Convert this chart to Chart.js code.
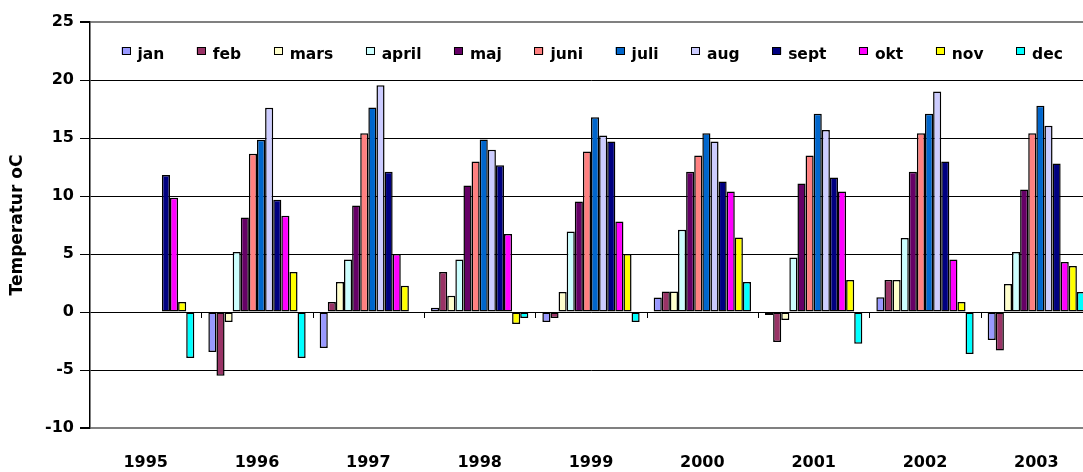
<!DOCTYPE html>
<html>
<head>
<meta charset="utf-8">
<script src="https://cdn.jsdelivr.net/npm/chart.js@4"></script>
<style>
html,body{margin:0;padding:0;overflow:hidden;background:#fff}
#wrap{position:relative;width:1100px;height:472px}
</style>
</head>
<body>
<div id="wrap"><canvas id="c"></canvas></div>
<script>
const years = ['1995','1996','1997','1998','1999','2000','2001','2002','2003'];
const months = ['jan','feb','mars','april','maj','juni','juli','aug','sept','okt','nov','dec'];
const monthColors = ['#9999FF','#993366','#FFFFCC','#CCFFFF','#660066','#FF8080','#0066CC','#CCCCFF','#000080','#FF00FF','#FFFF00','#00FFFF'];
const yTicks = [-10,-5,0,5,10,15,20,25];

const jan   = [null, -3.45, -3.1, 0.37, -0.86, 1.24, -0.26, 1.27, -2.42];
const feb   = [null, -5.5, 0.86, 3.45, -0.52, 1.76, -2.59, 2.76, -3.31];
const mars  = [null, -0.86, 2.59, 1.41, 1.73, 1.76, -0.69, 2.76, 2.42];
const april = [null, 5.18, 4.52, 4.52, 6.94, 7.1, 4.69, 6.39, 5.18];
const maj   = [null, 8.14, 9.18, 10.9, 9.52, 12.1, 11.08, 12.1, 10.56];
const juni  = [null, 13.64, 15.4, 12.98, 13.84, 13.5, 13.5, 15.4, 15.4];
const juli  = [null, 14.85, 17.64, 14.88, 16.78, 15.4, 17.1, 17.1, 17.78];
const aug   = [null, 17.6, 19.54, 13.99, 15.22, 14.7, 15.7, 19.0, 16.06];
const sept  = [11.8, 9.67, 12.1, 12.66, 14.7, 11.25, 11.6, 12.98, 12.8];
const okt   = [9.84, 8.29, 5.0, 6.73, 7.8, 10.39, 10.39, 4.52, 4.32];
const nov   = [0.86, 3.45, 2.27, -1.04, 5.0, 6.42, 2.76, 0.86, 3.97];
const dec   = [-3.97, -3.97, null, -0.52, -0.86, 2.59, -2.73, -3.63, 1.73];

const monthSeries = [jan, feb, mars, april, maj, juni, juli, aug, sept, okt, nov, dec];

Chart.defaults.font.family = '"DejaVu Sans", sans-serif';
Chart.defaults.color = '#000';

const datasets = months.map((m, i) => ({
  label: m,
  data: monthSeries[i],
  backgroundColor: monthColors[i],
  borderColor: '#000',
  borderWidth: 1.5,
  borderSkipped: false,
  categoryPercentage: 0.874,
  barPercentage: 1.0
}));

// legend drawn inside the plot area
const insideLegend = {
  id: 'insideLegend',
  afterDatasetsDraw(chart) {
    const ctx = chart.ctx;
    const area = chart.chartArea;
    ctx.save();
    ctx.font = 'bold 15.5px "DejaVu Sans"';
    ctx.textBaseline = 'alphabetic';
    ctx.textAlign = 'left';
    let x = area.left + 31.5;
    const base = area.top + 36.5;
    chart.data.datasets.forEach(ds => {
      ctx.fillStyle = ds.backgroundColor;
      ctx.fillRect(x, base - 11.5, 9, 7.5);
      ctx.lineWidth = 1;
      ctx.strokeStyle = '#000';
      ctx.strokeRect(Math.round(x) + 0.5, Math.round(base - 11.5) + 0.5, 8, 7);
      ctx.fillStyle = '#000';
      ctx.fillText(ds.label, x + 16, base);
      x += 16 + ctx.measureText(ds.label).width + 32.5;
    });
    ctx.restore();
  }
};

// small category tick marks on the zero line
const zeroTicks = {
  id: 'zeroTicks',
  beforeDatasetsDraw(chart) {
    const xs = chart.scales.x, ys = chart.scales.y, ctx = chart.ctx;
    const y0 = Math.round(ys.getPixelForValue(0));
    ctx.save();
    ctx.strokeStyle = '#000';
    ctx.lineWidth = 1;
    ctx.beginPath();
    for (let i = 1; i < years.length; i++) {
      const px = Math.round((xs.getPixelForValue(i - 1) + xs.getPixelForValue(i)) / 2) + 0.5;
      ctx.moveTo(px, y0);
      ctx.lineTo(px, y0 + 6);
    }
    ctx.stroke();
    ctx.restore();
  }
};

new Chart(document.getElementById('c'), {
  type: 'bar',
  data: { labels: years, datasets },
  options: {
    responsive: true,
    maintainAspectRatio: false,
    animation: false,
    layout: { padding: { top: 22, right: 8, left: 0, bottom: 0 } },
    plugins: {
      legend: { display: false },
      tooltip: { enabled: false }
    },
    scales: {
      x: {
        grid: { display: false },
        border: { display: false },
        ticks: { font: { size: 16, weight: 'bold' }, padding: 17, maxRotation: 0, autoSkip: false },
        afterFit(scale) { scale.height = 44; }
      },
      y: {
        min: -10,
        max: 25,
        afterBuildTicks(scale) { scale.ticks = yTicks.map(v => ({ value: v })); },
        ticks: { font: { size: 16, weight: 'bold' }, padding: 6 },
        grid: {
          color: c => (c.tick && (c.tick.value === 25 || c.tick.value === -10)) ? '#808080' : '#000',
          lineWidth: c => (c.tick && (c.tick.value === 25 || c.tick.value === -10)) ? 2 : 1,
          tickColor: '#000',
          tickLength: 10,
          drawTicks: true
        },
        border: { display: true, color: '#000', width: 1.5 },
        title: {
          display: true,
          text: 'Temperatur oC',
          font: { size: 17, weight: 'bold' },
          padding: { top: 7, bottom: 0 }
        },
        afterFit(scale) { scale.width = 90; }
      }
    }
  },
  plugins: [zeroTicks, insideLegend]
});
</script>
</body>
</html>
